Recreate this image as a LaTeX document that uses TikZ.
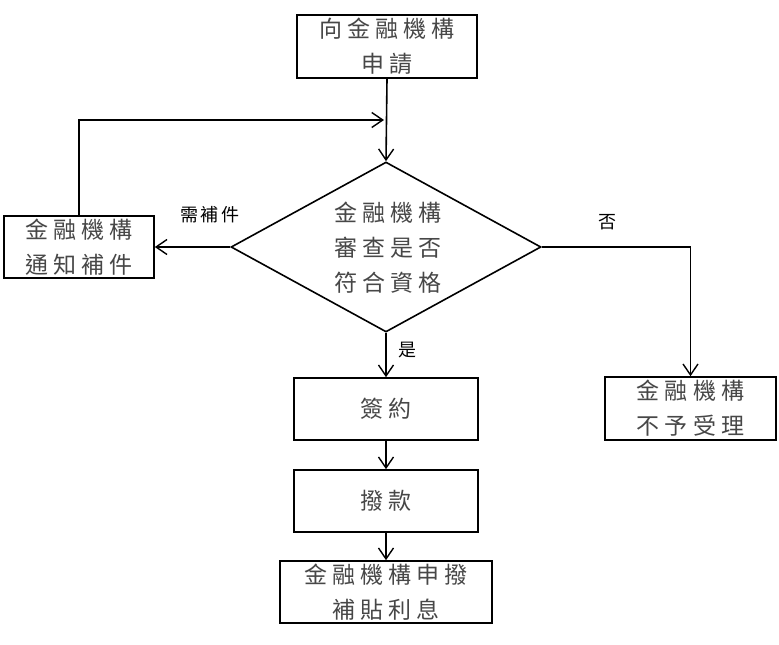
\documentclass[tikz,border=0pt]{standalone}
\usepackage{fontspec}
\newfontfamily\cjkbox[LetterSpace=22]{Noto Sans CJK TC}
\newfontfamily\cjklbl[LetterSpace=12]{Noto Sans CJK TC}
\usetikzlibrary{arrows.meta,shapes.geometric}
\begin{document}
\begin{tikzpicture}[x=1pt,y=-1pt,
  box/.style={draw, line width=1.6pt, inner sep=0pt, align=center,
    font=\cjkbox\fontsize{23}{35}\selectfont, text=black!72},
  lbl/.style={font=\cjklbl\fontsize{18}{20}\selectfont, text=black, inner sep=0pt},
  arr/.style={-{Straight Barb[length=11pt,width=15pt,line width=1.4pt]}, line width=1.6pt}]
\fill[white] (0,0) rectangle (779,645);
\useasboundingbox (0,0) rectangle (779,645);
\node[box, minimum width=180pt, minimum height=63pt] (apply) at (387,46.5) {向金融機構\\申請};
\node[draw, line width=1.6pt, shape=diamond, minimum width=310pt, minimum height=170pt, inner sep=0pt] (check) at (386,247) {};
\node[box, draw=none] (checktxt) at (388,248) {金融機構\\審查是否\\符合資格};
\node[box, minimum width=150pt, minimum height=62pt] (notify) at (79,247) {金融機構\\通知補件};
\node[box, minimum width=171pt, minimum height=63pt] (reject) at (690.5,408.5) {金融機構\\不予受理};
\node[box, minimum width=184pt, minimum height=62pt] (sign) at (386,409) {簽約};
\node[box, minimum width=184pt, minimum height=62pt] (pay) at (386,501) {撥款};
\node[box, minimum width=212pt, minimum height=62pt] (sub) at (386,592) {金融機構申撥\\補貼利息};
\coordinate (loopend) at (384,120);
\draw[arr] (apply.south) -- (check.north);
\draw[arr] (notify.north) |- (loopend);
\draw[arr] (check.west) -- (notify.east);
\draw[arr] (check.east) -| (reject.north);
\draw[arr] (check.south) -- (sign.north);
\draw[arr] (sign.south) -- (pay.north);
\draw[arr] (pay.south) -- (sub.north);
\node[lbl] (lneed) at (210,215) {需補件};
\node[lbl] (lno) at (607,222) {否};
\node[lbl] (lyes) at (407,350) {是};
\end{tikzpicture}
\end{document}
